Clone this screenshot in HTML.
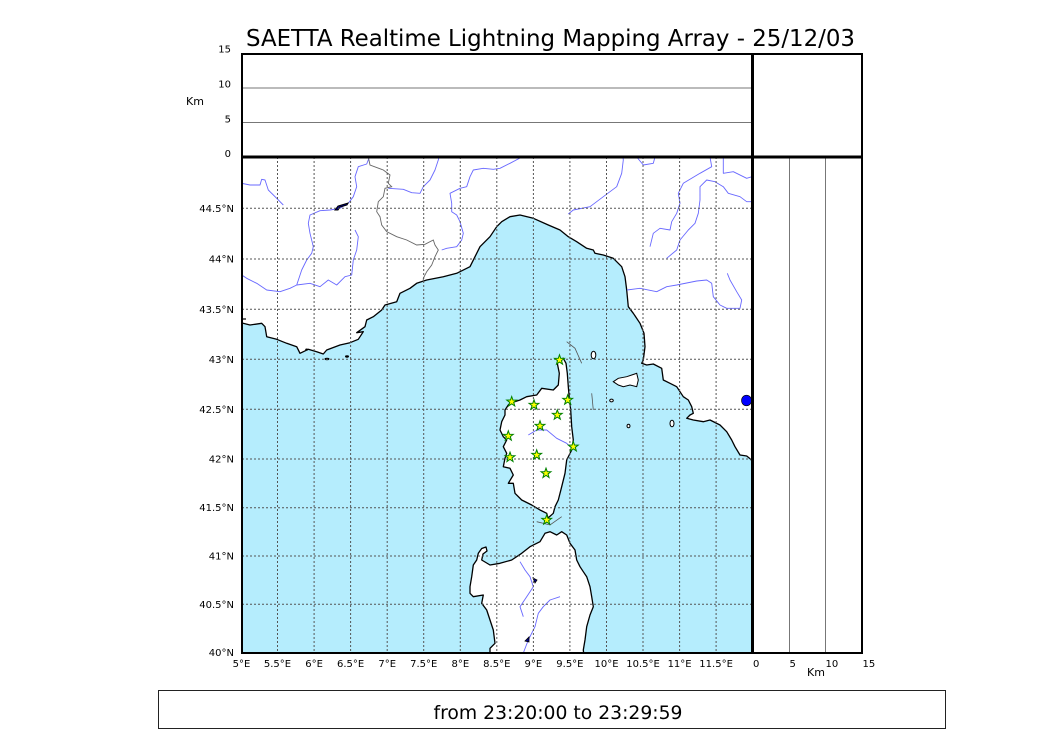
<!DOCTYPE html>
<html>
<head>
<meta charset="utf-8">
<style>
  html, body { margin:0; padding:0; background:#ffffff; }
  svg { display:block; }
  text { font-family: "DejaVu Sans", "Liberation Sans", sans-serif; fill:#000; }
</style>
</head>
<body>
<svg width="1050" height="750" viewBox="0 0 1050 750" xmlns="http://www.w3.org/2000/svg">
  <defs>
    <clipPath id="mapclip"><rect x="242" y="157" width="510" height="496"/></clipPath>
    <path id="st" d="M0,-5.2 L1.23,-1.7 L4.95,-1.61 L2,0.65 L3.06,4.21 L0,2.1 L-3.06,4.21 L-2,0.65 L-4.95,-1.61 L-1.23,-1.7 Z"/>
  </defs>

  <!-- Title -->
  <text x="246" y="46" font-size="22.7" textLength="609" lengthAdjust="spacingAndGlyphs">SAETTA Realtime Lightning Mapping Array - 25/12/03</text>

  <!-- Top panel -->
  <line x1="242" y1="88" x2="752" y2="88" stroke="#777" stroke-width="1"/>
  <line x1="242" y1="122.5" x2="752" y2="122.5" stroke="#777" stroke-width="1"/>
  <text x="231" y="52.5" font-size="10" text-anchor="end">15</text>
  <text x="231" y="87.5" font-size="10" text-anchor="end">10</text>
  <text x="231" y="122.3" font-size="10" text-anchor="end">5</text>
  <text x="231" y="156.8" font-size="10" text-anchor="end">0</text>
  <text x="186" y="105" font-size="11">Km</text>

  <!-- Map -->
  <g clip-path="url(#mapclip)">
    <rect x="242" y="157" width="510" height="496" fill="#b5edfd"/>
    <!-- Mainland -->
    <path fill="#fff" d="M242,157 L242,323 L250,325 L261.7,323.3 L265,326.7 L266.7,336.7 L276.7,339.3 L286.7,343.3 L296.7,346.7 L300,353.3 L308.3,349.3 L316.7,351.7 L323.3,354 L326.7,350 L340,345 L350,342.7 L358.3,339.3 L363.3,331.7 L356.7,332.7 L365,326.7 L366.7,320 L373.3,316.7 L381.7,310 L385,305 L396.7,301.7 L400,293.3 L410,288.3 L416.7,283.3 L426.7,280 L443.3,276.7 L456.7,273.3 L470,266.7 L475,256.7 L480,246.7 L490,236.7 L496.7,226.7 L501.7,221.7 L510,216.7 L520,215 L533.3,218.3 L548.3,225 L560,230 L568.3,236.7 L576.7,241.7 L586.7,248.3 L593.3,250 L595,253.3 L603.3,255 L613.3,258.3 L621.7,266.7 L625,276.7 L626.7,290 L628.3,306.7 L633.3,313.3 L640,323.3 L644,333.3 L645,346.7 L643.3,360 L641.7,363.3 L646.7,365 L653.3,364 L661.7,368.3 L663.3,380 L670,383.3 L676.7,386.7 L683.3,396.7 L688.3,400 L691.7,406.7 L693.3,413.3 L690,415 L686.7,418.3 L693.3,420 L703.3,421.7 L710,420 L720,425 L726.7,431.7 L731.7,440 L735,446.7 L740,455 L746.7,456 L750.7,459.3 L753,462 L753,157 Z"/>
    <polyline fill="none" stroke="#000" stroke-width="1.3" stroke-linejoin="round" points="242,323 250,325 261.7,323.3 265,326.7 266.7,336.7 276.7,339.3 286.7,343.3 296.7,346.7 300,353.3 308.3,349.3 316.7,351.7 323.3,354 326.7,350 340,345 350,342.7 358.3,339.3 363.3,331.7 356.7,332.7 365,326.7 366.7,320 373.3,316.7 381.7,310 385,305 396.7,301.7 400,293.3 410,288.3 416.7,283.3 426.7,280 443.3,276.7 456.7,273.3 470,266.7 475,256.7 480,246.7 490,236.7 496.7,226.7 501.7,221.7 510,216.7 520,215 533.3,218.3 548.3,225 560,230 568.3,236.7 576.7,241.7 586.7,248.3 593.3,250 595,253.3 603.3,255 613.3,258.3 621.7,266.7 625,276.7 626.7,290 628.3,306.7 633.3,313.3 640,323.3 644,333.3 645,346.7 643.3,360 641.7,363.3 646.7,365 653.3,364 661.7,368.3 663.3,380 670,383.3 676.7,386.7 683.3,396.7 688.3,400 691.7,406.7 693.3,413.3 690,415 686.7,418.3 693.3,420 703.3,421.7 710,420 720,425 726.7,431.7 731.7,440 735,446.7 740,455 746.7,456 750.7,459.3 753,462"/>
    <line x1="242" y1="319" x2="246" y2="319" stroke="#000" stroke-width="1.2"/>

    <!-- Corsica -->
    <polygon fill="#fff" stroke="#000" stroke-width="1.3" stroke-linejoin="round" points="558.3,360 563.3,358.3 566,363.3 567.3,373.3 568.3,386.7 569.3,398.3 570.7,410 571.7,426.7 573.3,440 571.7,450 566.7,460 565,473.3 561.7,486.7 558.3,500 555,506.7 553.3,513.3 548,518 546.7,513.3 540,510 531.7,505 521.7,500 515,493.3 513.3,483.3 508.3,483.3 513.3,475 510,468.3 503.3,466.7 505,458.3 506.7,453.3 503.3,446.7 506.7,440 503.3,436.7 500,430 501.7,421.7 505,415 505,410 508.3,405 510,403.3 520,400 526.7,396.7 536.7,395 541.7,388.3 553.3,390 558.3,385 559.3,373.3 557.3,363.3"/>

    <!-- Sardinia -->
    <polygon fill="#fff" stroke="#000" stroke-width="1.3" stroke-linejoin="round" points="476.7,560 478.3,553.3 481.7,548.5 486,547 487,551 483,554 481.7,560 490,565 500,563.3 511.7,560 521.7,553.3 530,546.7 540,541.7 545,533.3 550,531.7 556.7,535 561.7,531.7 566.7,535 570,543.3 575,550 576.7,560 580,566.7 583.3,571.7 586.7,576.7 590,586.7 591.7,596.7 593.3,606.7 590,615 586.7,626.7 585,640 583.3,650 584,656 490,656 490,648.3 495,643.3 493.3,630 490,620 486.7,610 481.7,603.3 483.3,595 473.3,596.7 470,593.3 470,586.7 471.7,576.7 473.3,565"/>

    <!-- Islands -->
    <polygon fill="#fff" stroke="#000" stroke-width="1" points="613.3,381.7 618.3,378.3 626.7,376.7 631.7,375 636.7,373.3 638.3,380 636.7,386.7 630,385 623.3,386.7 618.3,385"/>
    <ellipse cx="593.5" cy="355" rx="2.3" ry="3.8" fill="#fff" stroke="#000" stroke-width="1"/>
    <ellipse cx="611.5" cy="400.5" rx="1.8" ry="1.4" fill="#fff" stroke="#000" stroke-width="1"/>
    <ellipse cx="628.5" cy="426" rx="1.5" ry="1.8" fill="#fff" stroke="#000" stroke-width="1"/>
    <ellipse cx="672" cy="423.5" rx="2" ry="3.3" fill="#fff" stroke="#000" stroke-width="1"/>
    <ellipse cx="306.7" cy="349.5" rx="1.5" ry="1" fill="#000"/>
    <ellipse cx="327" cy="359" rx="2.5" ry="1.2" fill="#000"/>
    <ellipse cx="347" cy="356.5" rx="2" ry="1.2" fill="#000"/>

    <!-- Rivers -->
    <g fill="none" stroke="#6868ff" stroke-width="0.9" stroke-linejoin="round">
      <polyline points="241.7,183.3 250,185 260,185 261.7,179.3 265,180 268.3,190 276.7,198.3 283.3,205"/>
      <polyline points="369,158 366.7,164 358.3,166.7 355,176.7 356.7,186.7 353.3,196.7 348.3,203.3 340,208.3 330,210 320,210.7 310,215 308.3,223.3 310,233.3 313.3,246.7 311.7,253.3 306.7,260 301.7,270 296.7,285 290,288.3 280,291.7 266.7,290 256.7,283.3 246.7,278.3 241.7,275"/>
      <polyline points="296.7,285 310,283.3 320,286.7 328.3,280 336.7,285 345,276.7 351.7,275 353.3,260 356.7,250 358.3,236.7 355,230"/>
      <polyline points="388.3,188.3 403.3,189.3 411.7,192.7 420,193.3 423.3,186.7 430,180 435,170 438.3,160 439,157"/>
      <polyline points="441.7,250 446.7,248.3 456.7,246.7 461.7,240 463.3,233.3 460,221.7 456.7,215 451.7,211.7 451.7,203.3 450,193.3 460,188.3 466.7,186.7 470,176.7 473.3,170 483.3,168.3 493.3,169.3 500,168.3 510,163.3 520,158"/>
      <polyline points="568.3,214 573.3,210 590,206.7 603.3,196.7 616.7,186.7 621.7,173.3 623.3,160 623,157"/>
      <polyline points="636.7,157 643.3,165 653.3,163.3 655,157"/>
      <polyline points="710,157 711.7,166.7 700,173.3 683.3,183.3 678.3,193.3 680,203.3 676.7,213.3 671.7,221.7 670,230 660,228.3 653.3,233.3 650,246.7"/>
      <polyline points="723.3,157 723.3,173.3 733.3,171.7 746.7,178.3 752,176.7"/>
      <polyline points="666.7,258.3 676.7,250 680,240 688.3,230 695,223.3 698.3,213.3 700,200 700,186.7 706.7,180 715,181.7 723.3,186.7 728.3,193.3 740,196.7 746.7,201.7 752,201.7"/>
      <polyline points="627,290 640,288.3 656.7,291.7 666.7,286.7 676.7,285 696.7,281 706.7,280 711.7,283.3 713.3,296.7 720,305 726.7,308.3 740,308.3 741.7,300 736.7,291.7 730,280 727.3,273.3"/>
      <polyline points="528.3,435 536.7,430 546.7,430 556.7,438.3 566.7,443.3 571.7,448.3"/>
      <polyline points="520,561.7 525,570 530,576.7 533.3,586.7 526.7,596.7 520,606.7 523.3,616.7"/>
      <polyline points="560,596.7 550,600 543.3,606.7 538.3,613.3 535,626.7 528.3,640 523.3,653"/>
    </g>

    <!-- Border -->
    <polyline fill="none" stroke="#666" stroke-width="0.9" points="368.3,157 370,165 383.3,170 390,175 388.3,183.3 391.7,186.7 385,188.3 383.3,196.7 378.3,201.7 376.7,211.7 380,216.7 381.7,225 386.7,231.7 396.7,236.7 406.7,240 416.7,245 425,244.3 433.3,240 435,245 438.3,250 435,256.7 431.7,265 426.7,271.7 423.3,278.3 423.3,281.7"/>

    <!-- Gray tracks -->
    <g fill="none" stroke="#555" stroke-width="0.8">
      <polyline points="566.7,341.7 575,348.3 581.7,363.3"/>
      <polyline points="591.7,393.3 593.3,410"/>
      <polyline points="536.7,521.7 550,525 561.7,516.7"/>
    </g>

    <!-- Lakes -->
    <path d="M335,210 L338,206 L348,203 L347,205 L340,207 L338,210 Z" fill="#00008b" stroke="#000" stroke-width="1"/>
    <path d="M533,578 L537,580 L535,583 Z" fill="#00008b" stroke="#000" stroke-width="0.8"/>
    <path d="M525,641 L529,637 L529,642 Z" fill="#00008b" stroke="#000" stroke-width="0.8"/>
    <ellipse cx="746.5" cy="400.5" rx="5" ry="5.3" fill="#0000ff" stroke="#000" stroke-width="0.6"/>

    <!-- Grid -->
    <g stroke="#555" stroke-width="1" stroke-dasharray="2,2" fill="none">
      <line x1="277.5" y1="157" x2="277.5" y2="653"/>
      <line x1="314.1" y1="157" x2="314.1" y2="653"/>
      <line x1="350.6" y1="157" x2="350.6" y2="653"/>
      <line x1="387.2" y1="157" x2="387.2" y2="653"/>
      <line x1="423.7" y1="157" x2="423.7" y2="653"/>
      <line x1="460.3" y1="157" x2="460.3" y2="653"/>
      <line x1="496.8" y1="157" x2="496.8" y2="653"/>
      <line x1="533.4" y1="157" x2="533.4" y2="653"/>
      <line x1="569.9" y1="157" x2="569.9" y2="653"/>
      <line x1="606.5" y1="157" x2="606.5" y2="653"/>
      <line x1="643" y1="157" x2="643" y2="653"/>
      <line x1="679.6" y1="157" x2="679.6" y2="653"/>
      <line x1="716.1" y1="157" x2="716.1" y2="653"/>
      <line x1="242" y1="208.3" x2="752" y2="208.3"/>
      <line x1="242" y1="259" x2="752" y2="259"/>
      <line x1="242" y1="309.3" x2="752" y2="309.3"/>
      <line x1="242" y1="359.3" x2="752" y2="359.3"/>
      <line x1="242" y1="409.3" x2="752" y2="409.3"/>
      <line x1="242" y1="459" x2="752" y2="459"/>
      <line x1="242" y1="507.7" x2="752" y2="507.7"/>
      <line x1="242" y1="556" x2="752" y2="556"/>
      <line x1="242" y1="604.3" x2="752" y2="604.3"/>
    </g>

    <!-- Stars -->
    <g fill="#ffff00" stroke="#008000" stroke-width="1">
      <use href="#st" x="559.5" y="360"/>
      <use href="#st" x="511.7" y="401.7"/>
      <use href="#st" x="534" y="405"/>
      <use href="#st" x="567.7" y="400"/>
      <use href="#st" x="557.3" y="415"/>
      <use href="#st" x="540" y="426"/>
      <use href="#st" x="508.3" y="436"/>
      <use href="#st" x="573.3" y="446.7"/>
      <use href="#st" x="536.7" y="455"/>
      <use href="#st" x="510" y="457.3"/>
      <use href="#st" x="546" y="473.3"/>
      <use href="#st" x="546.7" y="520"/>
    </g>
  </g>

  <!-- Right panel inner lines -->
  <line x1="789.5" y1="157" x2="789.5" y2="653" stroke="#777" stroke-width="1"/>
  <line x1="825.5" y1="157" x2="825.5" y2="653" stroke="#777" stroke-width="1"/>

  <!-- Frames -->
  <rect x="242" y="54" width="620" height="599" fill="none" stroke="#000" stroke-width="2"/>
  <line x1="242" y1="157" x2="862" y2="157" stroke="#000" stroke-width="3"/>
  <line x1="752.5" y1="54" x2="752.5" y2="653" stroke="#000" stroke-width="3"/>

  <!-- Lat labels -->
  <g font-size="10" text-anchor="end">
    <text x="234" y="211.8">44.5°N</text>
    <text x="234" y="262.5">44°N</text>
    <text x="234" y="312.8">43.5°N</text>
    <text x="234" y="362.8">43°N</text>
    <text x="234" y="412.8">42.5°N</text>
    <text x="234" y="462.5">42°N</text>
    <text x="234" y="511.2">41.5°N</text>
    <text x="234" y="559.5">41°N</text>
    <text x="234" y="607.8">40.5°N</text>
    <text x="234" y="656">40°N</text>
  </g>

  <!-- Lon labels -->
  <g font-size="10" text-anchor="middle">
    <text x="241.5" y="667">5°E</text>
    <text x="277.5" y="667">5.5°E</text>
    <text x="314.1" y="667">6°E</text>
    <text x="350.6" y="667">6.5°E</text>
    <text x="387.2" y="667">7°E</text>
    <text x="423.7" y="667">7.5°E</text>
    <text x="460.3" y="667">8°E</text>
    <text x="496.8" y="667">8.5°E</text>
    <text x="533.4" y="667">9°E</text>
    <text x="569.9" y="667">9.5°E</text>
    <text x="606.5" y="667">10°E</text>
    <text x="643" y="667">10.5°E</text>
    <text x="679.6" y="667">11°E</text>
    <text x="716.1" y="667">11.5°E</text>
  </g>

  <!-- Right panel labels -->
  <g font-size="10">
    <text x="753" y="667">0</text>
    <text x="789.5" y="667">5</text>
    <text x="825.5" y="667">10</text>
    <text x="862.5" y="667">15</text>
  </g>
  <text x="807" y="676" font-size="11">Km</text>

  <!-- Bottom box -->
  <rect x="158.5" y="690.5" width="787" height="38" fill="none" stroke="#222" stroke-width="1"/>
  <text x="558" y="719" font-size="19" text-anchor="middle" textLength="249" lengthAdjust="spacingAndGlyphs">from 23:20:00 to 23:29:59</text>
</svg>
</body>
</html>
